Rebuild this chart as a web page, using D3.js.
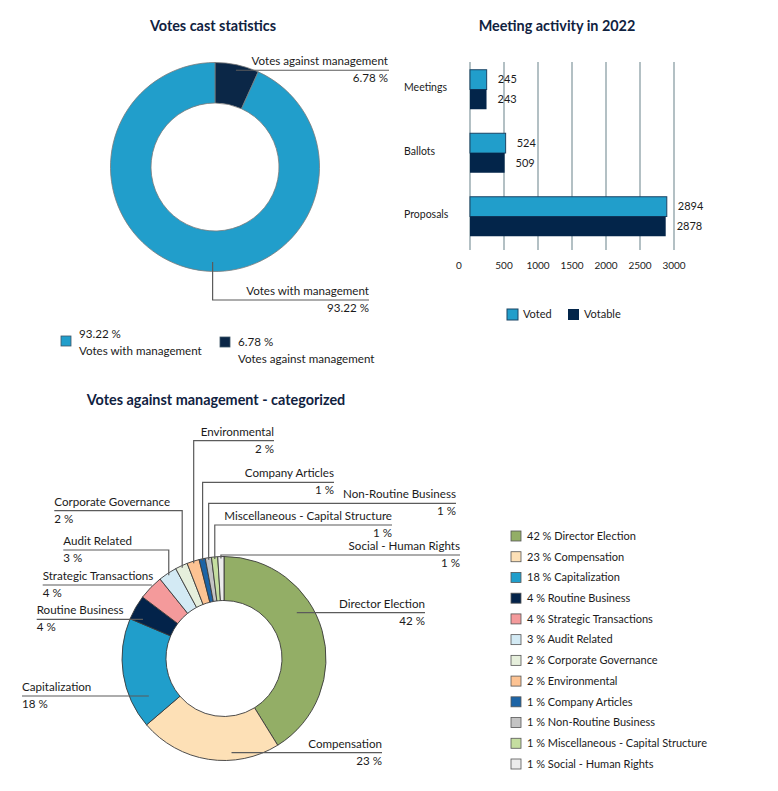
<!DOCTYPE html>
<html>
<head>
<meta charset="utf-8">
<title>Voting report</title>
<script src="https://cdnjs.cloudflare.com/ajax/libs/d3/7.8.5/d3.min.js"></script>
<style>
  body { margin: 0; background: #fff; }
  svg text { font-family: Lato, "Open Sans", sans-serif; font-size: 11px; fill: #1b1b1b; }
  svg text.title { font-size: 14.4px; font-weight: 700; fill: #10223f; }
  svg text.big { font-size: 11.6px; }
</style>
</head>
<body>
<script>
var width = 778,
    height = 791;

// votes cast statistics
var castLabels = ["Votes against management", "Votes with management"];
var castValues = [6.78, 93.22];
var castColors = ["#0b2747", "#219ecb"];

// meeting activity in 2022
var activityCategories = ["Meetings", "Ballots", "Proposals"];
var votedValues = [245, 524, 2894];
var votableValues = [243, 509, 2878];
var activitySeries = ["Voted", "Votable"];
var activityColors = ["#219ecb", "#03254a"];
var activityTicks = [0, 500, 1000, 1500, 2000, 2500, 3000];

// votes against management - categorized
var topicNames = ["Director Election", "Compensation", "Capitalization", "Routine Business",
    "Strategic Transactions", "Audit Related", "Corporate Governance", "Environmental",
    "Company Articles", "Non-Routine Business", "Miscellaneous - Capital Structure",
    "Social - Human Rights"];
var topicPercents = [42, 23, 18, 4, 4, 3, 2, 2, 1, 1, 1, 1];
var topicColors = ["#93ae66", "#fde0b6", "#209ecb", "#03234a", "#f49a9b", "#d3eaf4",
    "#e6efdc", "#fdc393", "#1c64a6", "#c4c4c4", "#c5dea0", "#ececec"];

var svg = d3.select("body").append("svg")
    .attr("width", width)
    .attr("height", height);

function title(text, x, y) {
    svg.append("text").attr("class", "title")
        .attr("x", x).attr("y", y)
        .attr("text-anchor", "middle")
        .text(text);
}

function callout(points, textX, lineY, anchor, name, pct) {
    svg.append("polyline")
        .attr("points", points.map(function(p){ return p.join(","); }).join(" "))
        .attr("fill", "none")
        .attr("stroke", "#5b5b5b")
        .attr("stroke-width", 1.2);
    svg.append("text").attr("class", "big").attr("x", textX).attr("y", lineY - 5)
        .attr("text-anchor", anchor).text(name);
    svg.append("text").attr("class", "big").attr("x", textX).attr("y", lineY + 12)
        .attr("text-anchor", anchor).text(pct);
}

function polar(cx, cy, r, a) {
    return [cx + r * Math.sin(a), cy - r * Math.cos(a)];
}

// ---------- Votes cast statistics ----------
title("Votes cast statistics", 213, 31);

var castCx = 215, castCy = 167, castR = 104.5;
var castPie = d3.pie().sort(null).value(function(d){ return d; })(castValues);
var castArc = d3.arc().innerRadius(64).outerRadius(castR);

svg.append("g")
    .attr("transform", "translate(" + castCx + "," + castCy + ")")
  .selectAll("path")
    .data(castPie)
  .enter().append("path")
    .attr("d", castArc)
    .attr("fill", function(d, i){ return castColors[i]; })
    .attr("stroke", "#7a7a7a")
    .attr("stroke-width", 0.8);

// against: leader from the middle of the slice
var pa = polar(castCx, castCy, 99, (castPie[0].startAngle + castPie[0].endAngle) / 2);
callout([pa, [389, pa[1]]], 388, pa[1], "end",
    castLabels[0], castValues[0].toFixed(2) + " %");

// with: leader from the bottom of the ring
var pw = polar(castCx, castCy, 95, Math.PI * 1.008);
callout([pw, [pw[0], 300], [369, 300]], 369, 300, "end",
    castLabels[1], castValues[1].toFixed(2) + " %");

// legend (with first, then against)
var castLegend = [
    {i: 1, x: 61, y: 336},
    {i: 0, x: 220, y: 337}
];
castLegend.forEach(function(l, k){
    svg.append("rect")
        .attr("x", l.x).attr("y", l.y)
        .attr("width", 10).attr("height", 10)
        .attr("fill", castColors[l.i])
        .attr("stroke", "#3d5566").attr("stroke-width", 0.8);
    svg.append("text").attr("class", "big").attr("x", l.x + 18).attr("y", l.y + 2 + k * 7)
        .text(castValues[l.i].toFixed(2) + " %");
    svg.append("text").attr("class", "big").attr("x", l.x + 18).attr("y", l.y + 19 + k * 7)
        .text(castLabels[l.i]);
});

// ---------- Meeting activity in 2022 ----------
title("Meeting activity in 2022", 557, 31);

var x = d3.scaleLinear().domain([0, 3000]).range([470, 674]);
var y = d3.scaleBand().domain(activityCategories)
    .range([56, 250]).paddingInner(0.378).paddingOuter(0.2165);
var ySub = d3.scaleBand().domain(activitySeries).range([0, y.bandwidth()]);

svg.append("g").selectAll("line")
    .data(activityTicks)
  .enter().append("line")
    .attr("x1", function(d){ return x(d); })
    .attr("x2", function(d){ return x(d); })
    .attr("y1", 62).attr("y2", 250)
    .attr("stroke", "#b3c0c4")
    .attr("stroke-width", 2);

svg.append("g").selectAll("text")
    .data(activityTicks)
  .enter().append("text")
    .attr("x", function(d){ return x(d) - (d === 0 ? 11 : 0); })
    .attr("y", 269)
    .attr("text-anchor", "middle")
    .style("font-size", "10px")
    .text(function(d){ return d; });

svg.append("g").selectAll("text")
    .data(activityCategories)
  .enter().append("text")
    .attr("x", 404)
    .attr("y", function(d){ return y(d) + y.bandwidth() / 2 - 2; })
    .attr("dy", "0.35em")
    .style("font-size", "10.5px")
    .text(function(d){ return d; });

var seriesValues = [votedValues, votableValues];
seriesValues.forEach(function(vals, s){
    var g = svg.append("g");
    g.selectAll("rect")
        .data(vals)
      .enter().append("rect")
        .attr("x", x(0))
        .attr("y", function(d, i){ return y(activityCategories[i]) + ySub(activitySeries[s]); })
        .attr("width", function(d){ return x(d) - x(0); })
        .attr("height", ySub.bandwidth())
        .attr("fill", activityColors[s])
        .attr("stroke", s === 0 ? "#1b4465" : "none")
        .attr("stroke-width", 1);
    g.selectAll("text")
        .data(vals)
      .enter().append("text")
        .attr("x", function(d){ return x(d) + 11; })
        .attr("y", function(d, i){
            return y(activityCategories[i]) + ySub(activitySeries[s]) + ySub.bandwidth() / 2;
        })
        .attr("dy", "0.35em")
        .text(function(d){ return d; });
});

var barLegend = [{x: 507}, {x: 568}];
barLegend.forEach(function(l, s){
    svg.append("rect")
        .attr("x", l.x).attr("y", 309)
        .attr("width", 11).attr("height", 11)
        .attr("fill", activityColors[s])
        .attr("stroke", s === 0 ? "#1b4465" : "none");
    svg.append("text").attr("x", l.x + 16).attr("y", 318)
        .text(activitySeries[s]);
});

// ---------- Votes against management - categorized ----------
title("Votes against management - categorized", 216, 405);

var topicCx = 224, topicCy = 658.5, topicR = 102;
var topicPie = d3.pie().sort(null).value(function(d){ return d; })(topicPercents);
var topicArc = d3.arc().innerRadius(58).outerRadius(topicR);

svg.append("g")
    .attr("transform", "translate(" + topicCx + "," + topicCy + ")")
  .selectAll("path")
    .data(topicPie)
  .enter().append("path")
    .attr("d", topicArc)
    .attr("fill", function(d, i){ return topicColors[i]; })
    .attr("stroke", "#3a3a3a")
    .attr("stroke-width", 0.9);

// label placement, same order as topicNames
var topicLayout = [
    {anchor: "end",   textX: 425,  lineY: 612.7, rEnd: 86},
    {anchor: "end",   textX: 382,  lineY: 752.7, rEnd: 94.5},
    {anchor: "start", textX: 22,   lineY: 696,   rEnd: 84},
    {anchor: "start", textX: 36.7, lineY: 619.3, rEnd: 90},
    {anchor: "start", textX: 42.7, lineY: 585,   rEnd: 103},
    {anchor: "start", textX: 63.3, lineY: 550,   drop: true},
    {anchor: "start", textX: 54.3, lineY: 510.7, drop: true},
    {anchor: "end",   textX: 274,  lineY: 440.7, drop: true},
    {anchor: "end",   textX: 334,  lineY: 482.3, drop: true},
    {anchor: "end",   textX: 456,  lineY: 503.3, drop: true},
    {anchor: "end",   textX: 392,  lineY: 525,   drop: true},
    {anchor: "end",   textX: 460,  lineY: 555,   drop: true}
];

topicPie.forEach(function(d, i){
    var l = topicLayout[i], pts;
    if (l.drop) {
        var p = polar(topicCx, topicCy, topicR - 2, (d.startAngle + d.endAngle) / 2);
        pts = [[l.textX, l.lineY], [p[0], l.lineY], p];
    } else {
        var dy = l.lineY - topicCy,
            dx = Math.sqrt(Math.max(0, l.rEnd * l.rEnd - dy * dy)) * (l.anchor === "end" ? 1 : -1);
        pts = [[l.textX, l.lineY], [topicCx + dx, l.lineY]];
    }
    callout(pts, l.textX, l.lineY, l.anchor, topicNames[i], topicPercents[i] + " %");
});

var legendY = d3.scalePoint().domain(topicNames).range([536, 764]);
var topicLegend = svg.append("g").selectAll("g")
    .data(topicNames)
  .enter().append("g")
    .attr("transform", function(d){ return "translate(511," + legendY(d) + ")"; });
topicLegend.append("rect")
    .attr("x", 0).attr("y", -5)
    .attr("width", 10).attr("height", 10)
    .attr("fill", function(d, i){ return topicColors[i]; })
    .attr("stroke", "#555")
    .attr("stroke-width", 0.8);
topicLegend.append("text")
    .attr("x", 16).attr("y", 0)
    .attr("dy", "0.35em")
    .text(function(d, i){ return topicPercents[i] + " % " + d; });
</script>
</body>
</html>
